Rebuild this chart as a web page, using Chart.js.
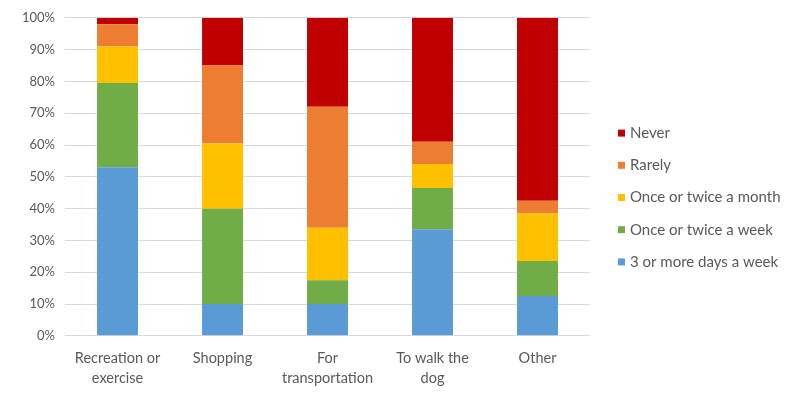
<!DOCTYPE html>
<html>
<head>
<meta charset="utf-8">
<script src="https://cdn.jsdelivr.net/npm/chart.js@4/dist/chart.umd.min.js"></script>
<style>
  html, body { margin: 0; padding: 0; background: #ffffff; }
  #wrap { width: 802px; height: 399px; }
</style>
</head>
<body>
<div id="wrap"><canvas id="walking_chart"></canvas></div>
<script>
const purposes = [
  ["Recreation or", "exercise"],
  "Shopping",
  ["For", "transportation"],
  ["To walk the", "dog"],
  "Other",
]

// share of respondents (%) per frequency, one value per purpose
const threePlusDaysWeek = [53, 10, 10, 33.5, 12.5]
const onceTwiceWeek = [26.5, 30, 7.5, 13, 11]
const onceTwiceMonth = [11.5, 20.5, 16.5, 7.5, 15]
const rarely = [7, 24.5, 38, 7, 4]
const never = [2, 15, 28, 39, 57.5]

const yTicks = [0, 10, 20, 30, 40, 50, 60, 70, 80, 90, 100]

const textColor = "#595959"
const fontFamily = "Lato, 'Open Sans', sans-serif"

function series(label, values, color) {
  return {
    label: label,
    data: values,
    backgroundColor: color,
    borderWidth: 0,
    categoryPercentage: 1,
    barPercentage: 0.39,
  }
}

// legend column to the right of the plot, "Never" on top
const sideLegend = {
  id: "sideLegend",
  afterDraw(chart) {
    const { ctx, chartArea } = chart
    const items = chart.data.datasets.slice().reverse()
    const left = chartArea.right + 28
    const gap = 32.2
    const middle = chart.height / 2 - 2

    ctx.save()
    ctx.font = "15px " + fontFamily
    ctx.textBaseline = "middle"
    ctx.textAlign = "left"
    items.forEach((ds, i) => {
      const y = middle + (i - (items.length - 1) / 2) * gap
      ctx.fillStyle = ds.backgroundColor
      ctx.fillRect(left, y - 3.5, 7, 7)
      ctx.fillStyle = textColor
      ctx.fillText(ds.label, left + 12, y)
    })
    ctx.restore()
  },
}

new Chart(document.getElementById("walking_chart"), {
  type: "bar",
  data: {
    labels: purposes,
    datasets: [
      series("3 or more days a week", threePlusDaysWeek, "#5B9BD5"),
      series("Once or twice a week", onceTwiceWeek, "#70AD47"),
      series("Once or twice a month", onceTwiceMonth, "#FFC000"),
      series("Rarely", rarely, "#ED7D31"),
      series("Never", never, "#C00000"),
    ],
  },
  options: {
    responsive: true,
    maintainAspectRatio: false,
    devicePixelRatio: 1,
    animation: false,
    layout: {
      padding: { top: 12, right: 212, bottom: 6, left: 12 },
    },
    scales: {
      x: {
        stacked: true,
        grid: { display: false },
        border: { display: false },
        ticks: {
          color: textColor,
          font: { family: fontFamily, size: 14.5, lineHeight: 1.35 },
          maxRotation: 0,
          padding: 5,
        },
      },
      y: {
        stacked: true,
        min: 0,
        max: 100,
        afterBuildTicks: (axis) => {
          axis.ticks = yTicks.map((v) => ({ value: v }))
        },
        grid: {
          color: "#D9D9D9",
          lineWidth: 1,
          drawTicks: false,
        },
        border: { display: false },
        ticks: {
          color: textColor,
          font: { family: fontFamily, size: 13 },
          padding: 10,
          callback: (v) => v + "%",
        },
      },
    },
    plugins: {
      legend: { display: false },
      tooltip: { enabled: false },
    },
  },
  plugins: [sideLegend],
})
</script>
</body>
</html>
